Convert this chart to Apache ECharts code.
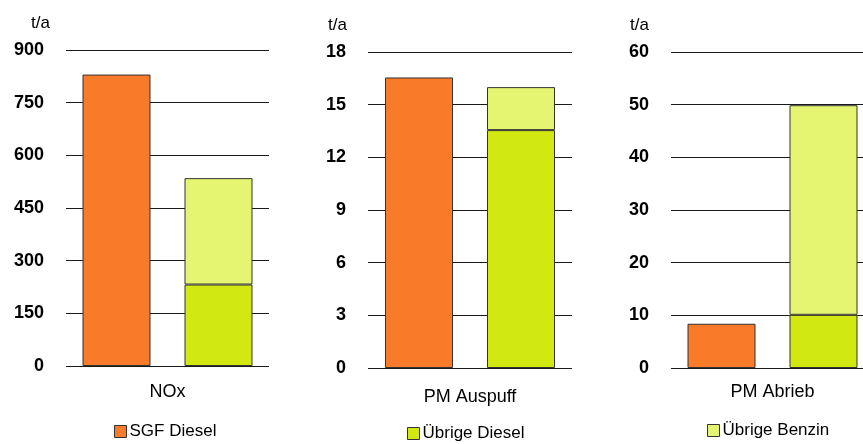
<!DOCTYPE html>
<html>
<head>
<meta charset="utf-8">
<script src="https://cdn.jsdelivr.net/npm/echarts@6/dist/echarts.min.js"></script>
<style>
html,body{margin:0;padding:0;background:#fff;}
#chart{width:863px;height:444px;}
</style>
</head>
<body>
<div id="chart"></div>
<script>
// Data
var categories = ['NOx', 'PM Auspuff', 'PM Abrieb'];
var seriesNames = ['SGF Diesel', 'Übrige Diesel', 'Übrige Benzin'];
var sgfDiesel = [830, 16.55, 8.4];
var uebrigeDiesel = [232, 13.55, 10.1];
var uebrigeBenzin = [303, 2.45, 39.8];
var yMax = [900, 18, 60];
var yInterval = [150, 3, 10];
var unitLabel = 't/a';

// Layout / style
var FONT = '"Liberation Sans", Arial, Helvetica, sans-serif';
var colors = ['#F97A28', '#D2E811', '#E6F571'];
var grids = [
  {left: 66, top: 50, width: 203, height: 316},
  {left: 368, top: 52, width: 204, height: 316},
  {left: 671, top: 52, width: 203, height: 316}
];
var xLabelMargin = [17, 20, 15];
var namePad = [16, 21, 22];
var legendPos = [{left: 114, top: 423}, {left: 407, top: 425}, {left: 707, top: 422}];

var chart = echarts.init(document.getElementById('chart'), null, {renderer: 'canvas'});

var option = {
  animation: false,
  backgroundColor: '#fff',
  textStyle: {fontFamily: FONT},
  grid: grids.map(function (g) { return Object.assign({containLabel: false, outerBoundsMode: 'none'}, g); }),
  legend: seriesNames.map(function (n, i) {
    return {
      data: [n],
      left: legendPos[i].left,
      top: legendPos[i].top,
      orient: 'horizontal',
      icon: 'rect',
      itemWidth: 12,
      itemHeight: 12,
      itemGap: 4,
      padding: 0,
      itemStyle: {borderColor: '#333', borderWidth: 1},
      textStyle: {fontFamily: FONT, fontSize: 17, color: '#000', padding: [0, 0, 0, -2]}
    };
  }),
  xAxis: categories.map(function (c, i) {
    return {
      type: 'category',
      gridIndex: i,
      data: [c],
      axisLine: {show: false},
      axisTick: {show: false},
      axisLabel: {fontFamily: FONT, fontSize: 18, color: '#000', margin: xLabelMargin[i]}
    };
  }),
  yAxis: categories.map(function (c, i) {
    return {
      type: 'value',
      gridIndex: i,
      min: 0,
      max: yMax[i],
      interval: yInterval[i],
      name: unitLabel,
      nameLocation: 'end',
      nameGap: 18,
      nameTextStyle: {fontFamily: FONT, fontSize: 17, color: '#000', align: 'right', padding: [0, namePad[i], 0, 0]},
      axisLine: {show: false},
      axisTick: {show: false},
      axisLabel: {fontFamily: FONT, fontSize: 18, fontWeight: 'bold', color: '#000', margin: 22},
      splitLine: {show: true, lineStyle: {color: '#1a1a1a', width: 1}}
    };
  }),
  series: []
};

var seriesData = [sgfDiesel, uebrigeDiesel, uebrigeBenzin];
for (var i = 0; i < categories.length; i++) {
  for (var s = 0; s < seriesNames.length; s++) {
    option.series.push({
      type: 'bar',
      name: seriesNames[s],
      xAxisIndex: i,
      yAxisIndex: i,
      stack: s === 0 ? 'sgf' + i : 'uebrig' + i,
      barWidth: 68,
      barGap: '50%',
      data: [seriesData[s][i]],
      itemStyle: {color: colors[s], borderColor: '#333', borderWidth: 1}
    });
  }
}

chart.setOption(option);
</script>
</body>
</html>
